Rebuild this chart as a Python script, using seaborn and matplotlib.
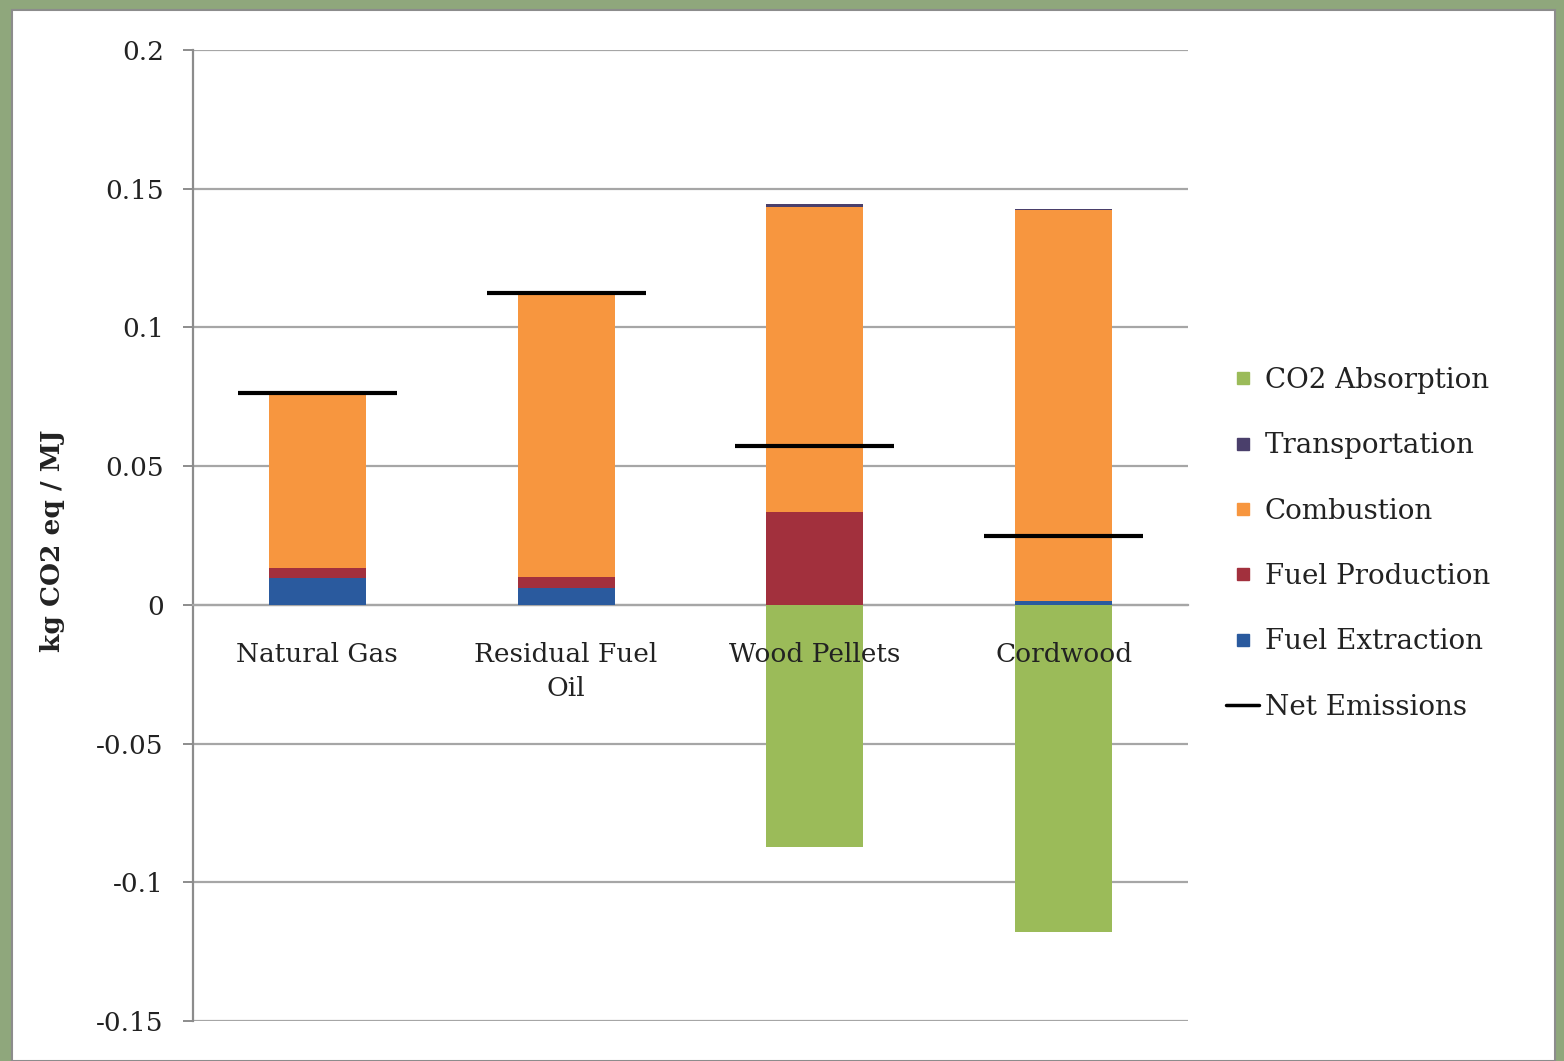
import numpy as np
import pandas as pd
import seaborn as sns
import matplotlib
matplotlib.use("Agg")
import matplotlib.pyplot as plt
from matplotlib.patches import Rectangle
from matplotlib.lines import Line2D

# Life-cycle emissions by fuel (kg CO2 eq / MJ)
fuels = ["Natural Gas", "Residual Fuel\nOil", "Wood Pellets", "Cordwood"]
fuel_extraction = [0.0097, 0.0061, 0.0, 0.0015]
fuel_production = [0.0036, 0.0040, 0.0335, 0.0]
combustion = [0.0631, 0.1024, 0.1099, 0.1408]
transportation = [0.0, 0.0, 0.0010, 0.0005]
co2_absorption = [0.0, 0.0, -0.0872, -0.1180]

yticks = [-0.15, -0.1, -0.05, 0, 0.05, 0.1, 0.15, 0.2]
ytick_labels = ["-0.15", "-0.1", "-0.05", "0", "0.05", "0.1", "0.15", "0.2"]

colors = {
    "CO2 Absorption": "#9BBB59",
    "Transportation": "#4A3F6B",
    "Combustion": "#F7963F",
    "Fuel Production": "#A2303D",
    "Fuel Extraction": "#2A5A9E",
}

sns.set_theme(style="white")
plt.rcParams["font.family"] = ["DejaVu Serif", "DejaVu Sans"]

fig = plt.figure(figsize=(15.64, 10.61), dpi=100)
fig.patch.set_facecolor("#8FA77C")
fig.add_artist(Rectangle((12 / 1564, 0), (1555 - 12) / 1564, (1061 - 10) / 1061,
                         transform=fig.transFigure, facecolor="white",
                         edgecolor="#8C8C8C", linewidth=1.5, zorder=0))

ax = fig.add_axes([193 / 1564, 1 - 1021 / 1061, (1188 - 193) / 1564, (1021 - 50) / 1061])
ax.set_facecolor("none")

# stacked positive components, in order from the baseline up
layers = [
    ("Fuel Extraction", fuel_extraction),
    ("Fuel Production", fuel_production),
    ("Combustion", combustion),
    ("Transportation", transportation),
]
bottom = np.zeros(len(fuels))
for name, vals in layers:
    df = pd.DataFrame({"fuel": fuels, "value": vals})
    sns.barplot(data=df, x="fuel", y="value", order=fuels, color=colors[name],
                width=0.39, bottom=bottom.copy(), ax=ax, errorbar=None,
                saturation=1, linewidth=0, zorder=3)
    bottom += np.array(vals)

# negative component below zero
df_abs = pd.DataFrame({"fuel": fuels, "value": co2_absorption})
sns.barplot(data=df_abs, x="fuel", y="value", order=fuels,
            color=colors["CO2 Absorption"], width=0.39, ax=ax, errorbar=None,
            saturation=1, linewidth=0, zorder=3)

# net emissions markers
net = (np.array(fuel_extraction) + np.array(fuel_production) + np.array(combustion)
       + np.array(transportation) + np.array(co2_absorption))
xpos = np.arange(len(fuels))
ax.hlines(net, xpos - 0.32, xpos + 0.32, color="black", linewidth=3, zorder=5)

ax.set_xlim(-0.5, len(fuels) - 0.5)
ax.set_ylim(-0.15, 0.2)
ax.set_yticks(yticks)
ax.set_yticklabels(ytick_labels, fontsize=19, color="#222222")
ax.yaxis.grid(True, color="#A6A6A6", linewidth=1.6, zorder=0)
ax.set_axisbelow(True)

for s in ["top", "right"]:
    ax.spines[s].set_visible(False)
ax.spines["left"].set_color("#8C8C8C")
ax.spines["left"].set_linewidth(1.6)
ax.spines["bottom"].set_position(("data", 0))
ax.spines["bottom"].set_color("#A6A6A6")
ax.spines["bottom"].set_linewidth(1.6)

# category names sit on top of the bars, just under the zero line
ax.set_xticks(xpos)
ax.set_xticklabels([])
for i, name in enumerate(fuels):
    ax.annotate(name, xy=(i, 0), xytext=(0, -27), textcoords="offset points",
                ha="center", va="top", fontsize=19, color="#222222",
                linespacing=1.45, zorder=6, annotation_clip=False)
ax.set_xticks(xpos[:-1] + 0.5, minor=True)
ax.tick_params(axis="x", which="major", length=0)
ax.tick_params(axis="x", which="minor", length=6, color="#8C8C8C", width=1.4, direction="out")
ax.tick_params(axis="y", which="major", length=7, color="#8C8C8C", width=1.4, pad=14, left=True)
ax.set_xlabel("")
ax.set_ylabel("kg CO2 eq / MJ", fontsize=19, fontweight="bold", color="#222222")
ax.yaxis.set_label_coords(-0.129, 0.495)

handles = [
    Line2D([], [], marker="s", linestyle="", color=colors["CO2 Absorption"], markersize=8),
    Line2D([], [], marker="s", linestyle="", color=colors["Transportation"], markersize=8),
    Line2D([], [], marker="s", linestyle="", color=colors["Combustion"], markersize=8),
    Line2D([], [], marker="s", linestyle="", color=colors["Fuel Production"], markersize=8),
    Line2D([], [], marker="s", linestyle="", color=colors["Fuel Extraction"], markersize=8),
    Line2D([], [], color="black", linewidth=2.5),
]
labels = ["CO2 Absorption", "Transportation", "Combustion", "Fuel Production",
          "Fuel Extraction", "Net Emissions"]
fig.legend(handles, labels, loc="upper left",
           bbox_to_anchor=(1201 / 1564, 1 - 342 / 1061), frameon=False,
           fontsize=20, labelspacing=1.38, handlelength=1.2, handletextpad=0.2,
           labelcolor="#222222")

fig.savefig("out.png", dpi=100, facecolor=fig.get_facecolor())
